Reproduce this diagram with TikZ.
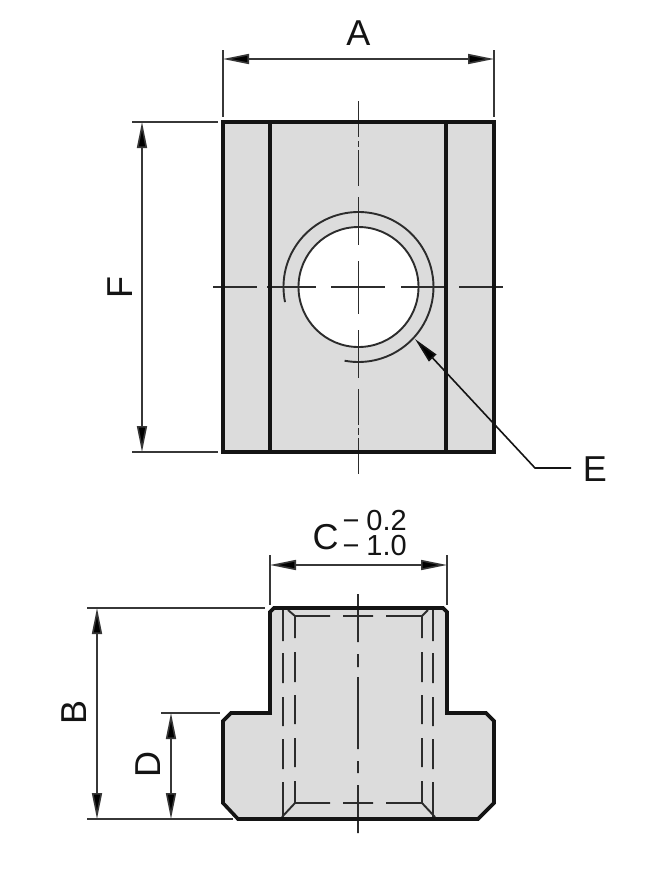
\documentclass[tikz,border=0pt]{standalone}
\usepackage{fontspec}
\setmainfont{Liberation Sans}
\usetikzlibrary{arrows.meta}
\definecolor{partfill}{HTML}{DCDCDC}
\definecolor{ink}{HTML}{141414}
\tikzset{
  x=1pt,y=-1pt,
  outline/.style={line width=3.6pt,draw=ink,line join=miter},
  thin part/.style={line width=1.9pt,draw=ink!90!white},
  extline/.style={line width=1.6pt,draw=ink!85!white},
  dimline/.style={line width=1.6pt,draw=ink!85!white,{Triangle[length=26pt,width=10pt,fill=black]}-{Triangle[length=26pt,width=10pt,fill=black]}},
  leader/.style={line width=1.6pt,draw=ink,{Triangle[length=26pt,width=10pt,fill=black]}-},
  bigtext/.style={inner sep=0pt,font=\fontsize{36}{36}\selectfont,text=ink},
  smalltext/.style={inner sep=0pt,align=right,font=\fontsize{29}{25}\selectfont,text=ink},
}
\begin{document}
\begin{tikzpicture}
\useasboundingbox (0,0) rectangle (669,871);
\fill[white] (0,0) rectangle (669,871);
% ---- top view
\coordinate (hc) at (358.5,287);
\fill[partfill] (223,122) rectangle (494,452);
\fill[white] (hc) circle[radius=60];
\draw[thin part] (hc) circle[radius=60];
\draw[thin part] ([shift={(168.4:75)}]hc) arc[start angle=168.4,end angle=460.7,radius=75];
\draw[thin part]
  (213,287)--(257,287) (267,287)--(316,287) (331,287)--(385,287) (401,287)--(447,287) (459,287)--(503,287)
  (358.5,101)--(358.5,137) (358.5,141)--(358.5,147) (358.5,150)--(358.5,186) (358.5,197)--(358.5,245)
  (358.5,261)--(358.5,314) (358.5,330)--(358.5,378) (358.5,389)--(358.5,425) (358.5,428)--(358.5,435) (358.5,438)--(358.5,474);
\draw[outline] (223,122) rectangle (494,452);
\draw[outline,line width=3.2pt] (270,122)--(270,452) (446,122)--(446,452);
% ---- side view
\fill[partfill] (274,608)--(443,608)--(447,612)--(447,713)--(486,713)--(494,721)--(494,803)--(478,819)--(238,819)--(223,803)--(223,721)--(231,713)--(270,713)--(270,612)--cycle;
\draw[thin part]
  (283,610)--(283,641) (283,653)--(283,683) (283,697)--(283,726) (283,739)--(283,769) (283,782)--(283,817)
  (295,616)--(295,638) (295,652)--(295,682) (295,695)--(295,724) (295,738)--(295,767) (295,781)--(295,803)
  (422,616)--(422,638) (422,652)--(422,682) (422,695)--(422,724) (422,738)--(422,767) (422,781)--(422,803)
  (433,610)--(433,641) (433,653)--(433,683) (433,697)--(433,726) (433,739)--(433,769) (433,782)--(433,817)
  (295,616)--(330,616) (343,616)--(373,616) (386,616)--(422,616)
  (295,803)--(330,803) (343,803)--(373,803) (386,803)--(422,803)
  (288,610)--(295,616) (428,610)--(422,616) (282,817)--(295,803) (435,817)--(422,803)
  (358,594)--(358,642) (358,654)--(358,667) (358,677)--(358,749) (358,761)--(358,773) (358,785)--(358,833);
\draw[outline] (274,608)--(443,608)--(447,612)--(447,713)--(486,713)--(494,721)--(494,803)--(478,819)--(238,819)--(223,803)--(223,721)--(231,713)--(270,713)--(270,612)--cycle;
% ---- dimension coordinates
\coordinate (a1) at (223,59); \coordinate (a2) at (494,59);
\coordinate (ae1t) at (223,50); \coordinate (ae1b) at (223,117);
\coordinate (ae2t) at (494,50); \coordinate (ae2b) at (494,117);
\coordinate (f1) at (142,122); \coordinate (f2) at (142,452);
\coordinate (fe1l) at (132,122); \coordinate (fe1r) at (218,122);
\coordinate (fe2l) at (132,452); \coordinate (fe2r) at (218,452);
\coordinate (c1) at (270,565); \coordinate (c2) at (447,565);
\coordinate (ce1t) at (270,555); \coordinate (ce1b) at (270,605);
\coordinate (ce2t) at (447,555); \coordinate (ce2b) at (447,605);
\coordinate (b1) at (97,608); \coordinate (b2) at (97,819);
\coordinate (be1l) at (87,608); \coordinate (be1r) at (265,608);
\coordinate (be2l) at (87,819); \coordinate (be2r) at (233,819);
\coordinate (d1) at (171,713); \coordinate (d2) at (171,819);
\coordinate (de1l) at (161,713); \coordinate (de1r) at (220,713);
\coordinate (etip) at (415,339); \coordinate (eknee) at (535,468); \coordinate (eend) at (571,468);
% ---- extension lines
\draw[extline] (ae1t)--(ae1b);
\draw[extline] (ae2t)--(ae2b);
\draw[extline] (fe1l)--(fe1r);
\draw[extline] (fe2l)--(fe2r);
\draw[extline] (ce1t)--(ce1b);
\draw[extline] (ce2t)--(ce2b);
\draw[extline] (be1l)--(be1r);
\draw[extline] (be2l)--(be2r);
\draw[extline] (de1l)--(de1r);
% ---- dimension lines
\draw[dimline] (a1)--(a2);
\draw[dimline] (f1)--(f2);
\draw[dimline] (c1)--(c2);
\draw[dimline] (b1)--(b2);
\draw[dimline] (d1)--(d2);
\draw[leader] (etip)--(eknee)--(eend);
% ---- labels
\node[bigtext] (tA) at (358.5,33) {A};
\node[bigtext,rotate=90] (tF) at (120,287) {F};
\node[bigtext,rotate=90] (tB) at (74.5,712) {B};
\node[bigtext,rotate=90] (tD) at (148.5,764.5) {D};
\node[bigtext] (tE) at (595,469) {E};
\node[bigtext] (tC) at (325.5,537.5) {C};
\node[smalltext,anchor=east] (tTol) at (407,533.5) {−\hspace{7pt}0.2\\−\hspace{7pt}1.0};
\end{tikzpicture}
\end{document}
